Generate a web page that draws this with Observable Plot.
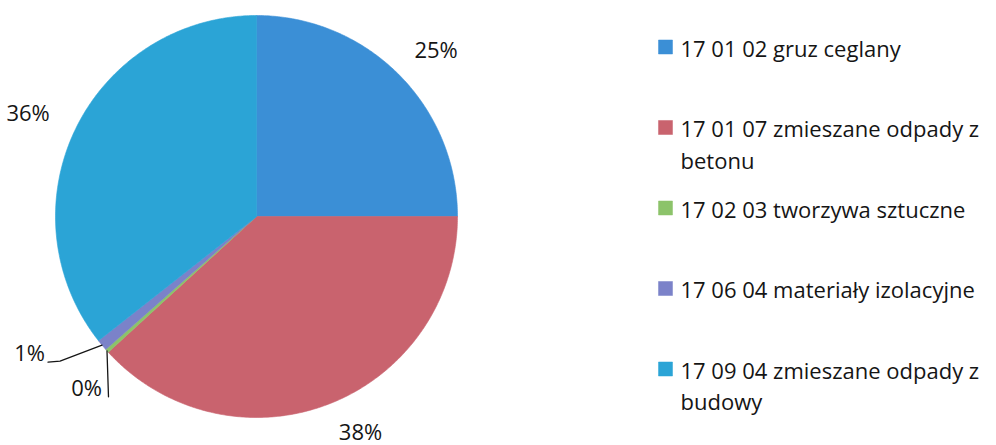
<!DOCTYPE html>
<html>
<head>
<meta charset="utf-8">
<script src="https://cdn.jsdelivr.net/npm/d3@7"></script>
<script src="https://cdn.jsdelivr.net/npm/@observablehq/plot@0.6"></script>
<style>
  html, body { margin: 0; padding: 0; background: #fff; }
  #chart svg { display: block; }
</style>
</head>
<body>
<div id="chart"></div>
<script>
// ---- data ----
const categories = [
  "17 01 02 gruz ceglany",
  "17 01 07 zmieszane odpady z betonu",
  "17 02 03 tworzywa sztuczne",
  "17 06 04 materiały izolacyjne",
  "17 09 04 zmieszane odpady z budowy"
];
const legendText = [
  "17 01 02 gruz ceglany",
  "17 01 07 zmieszane odpady z\nbetonu",
  "17 02 03 tworzywa sztuczne",
  "17 06 04 materiały izolacyjne",
  "17 09 04 zmieszane odpady z\nbudowy"
];
const shares = [25.0, 38.2, 0.3, 0.9, 35.6];
const colors = ["#3b8fd6", "#c9636e", "#8cc36a", "#7b82c9", "#2ba4d6"];

// ---- layout ----
const W = 996, H = 445;
const cx = 256, cy = 216, r = 201;
const fontFamily = "'Open Sans', sans-serif";
const labelFs = 22, legendFs = 22;
const ink = "#151515";

const arcs = d3.pie().sort(null).value(d => d)(shares);
const polar = (a, rad) => ({x: cx + rad * Math.sin(a), y: cy - rad * Math.cos(a)});

// wedge outlines
const wedgePts = arcs.flatMap((a, i) => {
  const n = Math.max(2, Math.ceil((a.endAngle - a.startAngle) / 0.01));
  const pts = [{i, x: cx, y: cy}];
  for (let k = 0; k <= n; k++) {
    const t = a.startAngle + (a.endAngle - a.startAngle) * k / n;
    pts.push({i, ...polar(t, r)});
  }
  pts.push({i, x: cx, y: cy});
  return pts;
});

// labels (outside end, pushed off the chart's bottom edge when needed)
const pct = shares.map(v => Math.round(v) + "%");
const bigLabels = arcs.map((a, i) => ({a, i})).filter(d => shares[d.i] >= 5).map(({a, i}) => {
  const m = (a.startAngle + a.endAngle) / 2;
  const R0 = 228;
  let x = cx + (R0 + 26) * Math.sin(m);
  let y = cy - (R0 + 6) * Math.cos(m);
  if (y > H - 13) { x += 12; y = H - 13; }
  return {i, x, y, text: pct[i]};
});
const smallLayout = {
  2: {leader: [[0, 0], [1.5, 46]], label: [-5, 38]},
  3: {leader: [[0, 0], [-42, 16], [-54, 17]], label: [-57, 9]}
};
const leaderPts = [], smallLabels = [];
for (const k of Object.keys(smallLayout)) {
  const i = +k, a = arcs[i];
  const P = polar((a.startAngle + a.endAngle) / 2, r);
  smallLayout[k].leader.forEach(([dx, dy]) => leaderPts.push({i, x: P.x + dx, y: P.y + dy}));
  const [lx, ly] = smallLayout[k].label;
  smallLabels.push({i, x: P.x + lx, y: P.y + ly, text: pct[i]});
}

// legend
const legend = categories.map((c, i) => ({
  c, text: legendText[i],
  y: 53 + i * 80.5
}));

const chart = Plot.plot({
  width: W, height: H,
  margin: 0,
  x: {domain: [0, W], range: [0, W], axis: null},
  y: {domain: [0, H], range: [0, H], axis: null},
  color: {domain: categories, range: colors},
  style: {fontFamily, background: "#fff"},
  marks: [
    Plot.line(wedgePts, {x: "x", y: "y", z: "i",
      fill: d => categories[d.i], stroke: d => categories[d.i], strokeWidth: 0.6, curve: "linear"}),
    Plot.line(leaderPts, {x: "x", y: "y", z: "i", stroke: ink, strokeWidth: 1.3}),
    Plot.text(bigLabels, {x: "x", y: "y", text: "text", fontSize: labelFs, fill: ink,
      textAnchor: "middle", lineAnchor: "middle"}),
    Plot.text(smallLabels, {x: "x", y: "y", text: "text", fontSize: labelFs, fill: ink,
      textAnchor: "end", lineAnchor: "middle"}),
    Plot.dot(legend, {x: () => 665, y: d => d.y - 6.5, symbol: "square", r: 7.9,
      fill: "c", stroke: "c", strokeWidth: 0.5}),
    Plot.text(legend, {x: () => 680, y: d => d.y - 0.71 * legendFs - 4, text: "text",
      fontSize: legendFs, fill: ink, textAnchor: "start", lineAnchor: "top", lineHeight: 1.45})
  ]
});
document.getElementById("chart").append(chart);
</script>
</body>
</html>
